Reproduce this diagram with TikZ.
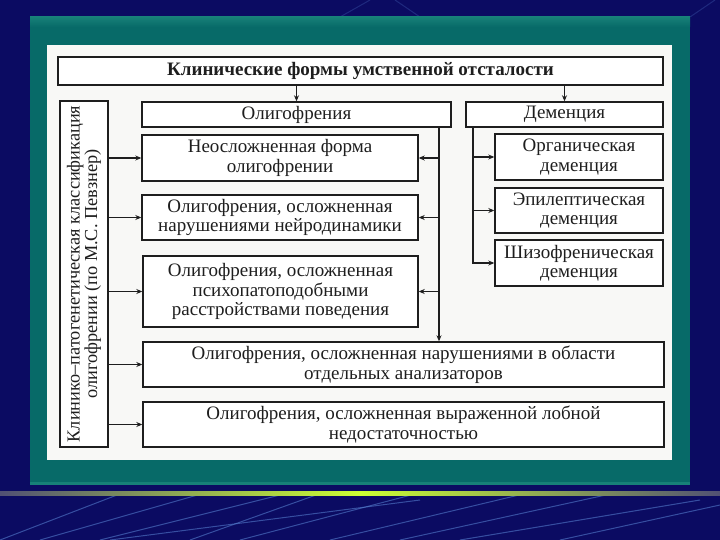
\documentclass[tikz,border=0pt]{standalone}
\usepackage{fontspec}
\setmainfont{Liberation Serif}
\usetikzlibrary{arrows.meta,calc}
\definecolor{navybg}{HTML}{0B0B62}
\definecolor{tealfr}{HTML}{076A68}
\definecolor{tealhi}{HTML}{178078}
\definecolor{paper}{HTML}{F8F8F6}
\definecolor{ink}{HTML}{1E1E1E}
\definecolor{streak}{HTML}{5A86D6}
\begin{document}
\begin{tikzpicture}[x=1pt,y=-1pt,
  box/.style={draw=ink, line width=1.4pt, fill=white, align=center, inner sep=0pt,
    font=\fontsize{19}{19.5}\selectfont, text=ink},
  arr/.style={line width=1.2pt, draw=ink, -{Stealth[length=6pt,width=5pt]}},
  deco/.style={draw=streak, line width=1pt, opacity=0.55}]
% background
\fill[navybg] (0,0) rectangle (720,540);
\begin{scope}
\clip (0,0) rectangle (720,17);
\draw[deco, opacity=0.25] (340,17) -- (370,0);
\draw[deco, opacity=0.25] (420,17) -- (395,0);
\draw[deco, opacity=0.25] (690,17) -- (715,0);
\end{scope}
\begin{scope}
\clip (0,496) rectangle (720,540);
\draw[deco] (0,540) -- (130,490);
\draw[deco] (40,540) -- (215,490);
\draw[deco] (100,540) -- (300,490);
\draw[deco] (190,540) -- (330,490);
\draw[deco] (240,540) -- (430,490);
\draw[deco] (330,540) -- (540,490);
\draw[deco] (400,540) -- (720,470);
\draw[deco] (110,540) -- (420,500);
\draw[deco] (460,540) -- (700,500);
\draw[deco] (560,540) -- (720,505);
\end{scope}
\shade[left color=gray!60!navybg, right color=gray!60!navybg, middle color=yellow!75!green!80!white]
  (0,491.5) rectangle (720,495);
\fill[tealfr] (30,17) rectangle (690,485);
\shade[top color=tealhi, bottom color=tealfr] (30,17) rectangle (690,27);
\fill[tealhi] (30,482) rectangle (690,485);
\fill[paper] (47,45) rectangle (672,460);
\useasboundingbox (0,0) rectangle (720,540);

% nodes
\node[box, minimum width=605pt, minimum height=28pt, font=\fontsize{19}{19.5}\selectfont\bfseries]
  (title) at (360.5,71) {Клинические формы умственной отсталости};
\node[box, minimum width=48pt, minimum height=346pt] (left) at (84,274) {};
\node[rotate=90, align=center, text=ink, font=\fontsize{18.3}{17.5}\selectfont] at (left.center)
  {Клинико–патогенетическая классификация\\олигофрении (по М.С. Певзнер)};
\node[box, minimum width=309pt, minimum height=25pt] (olig) at (296.5,114.5) {Олигофрения};
\node[box, minimum width=197pt, minimum height=25pt] (dem) at (564.5,114.5) {Деменция};
\node[box, minimum width=276pt, minimum height=46pt] (b1) at (280,158) {Неосложненная форма\\олигофрении};
\node[box, minimum width=276pt, minimum height=45pt] (b2) at (280,217.5) {Олигофрения, осложненная\\нарушениями нейродинамики};
\node[box, minimum width=275pt, minimum height=71pt] (b3) at (280.5,291.5) {Олигофрения, осложненная\\психопатоподобными\\расстройствами поведения};
\node[box, minimum width=521pt, minimum height=45pt] (b4) at (403.5,364.5) {Олигофрения, осложненная нарушениями в области\\отдельных анализаторов};
\node[box, minimum width=521pt, minimum height=45pt] (b5) at (403.5,424.5) {Олигофрения, осложненная выраженной лобной\\недостаточностью};
\node[box, minimum width=168pt, minimum height=46pt] (org) at (579,157) {Органическая\\деменция};
\node[box, minimum width=168pt, minimum height=45pt] (epi) at (579,210.5) {Эпилептическая\\деменция};
\node[box, minimum width=168pt, minimum height=46pt] (sch) at (579,263) {Шизофреническая\\деменция};

\coordinate (ol) at (439,0);
\coordinate (dl) at (473,0);

% connectors
\draw[arr] (title.south -| olig.north) -- (olig.north);
\draw[arr] (title.south -| dem.north) -- (dem.north);
\draw[arr] (olig.south -| ol) -- (b4.north -| ol);
\draw[arr] (b1.east -| ol) -- (b1.east);
\draw[arr] (b2.east -| ol) -- (b2.east);
\draw[arr] (b3.east -| ol) -- (b3.east);
\draw[arr] (dem.south -| dl) |- (sch.west);
\draw[arr] (org.west -| dl) -- (org.west);
\draw[arr] (epi.west -| dl) -- (epi.west);
\draw[arr] (left.east |- b1.west) -- (b1.west);
\draw[arr] (left.east |- b2.west) -- (b2.west);
\draw[arr] (left.east |- b3.west) -- (b3.west);
\draw[arr] (left.east |- b4.west) -- (b4.west);
\draw[arr] (left.east |- b5.west) -- (b5.west);
\end{tikzpicture}
\end{document}
